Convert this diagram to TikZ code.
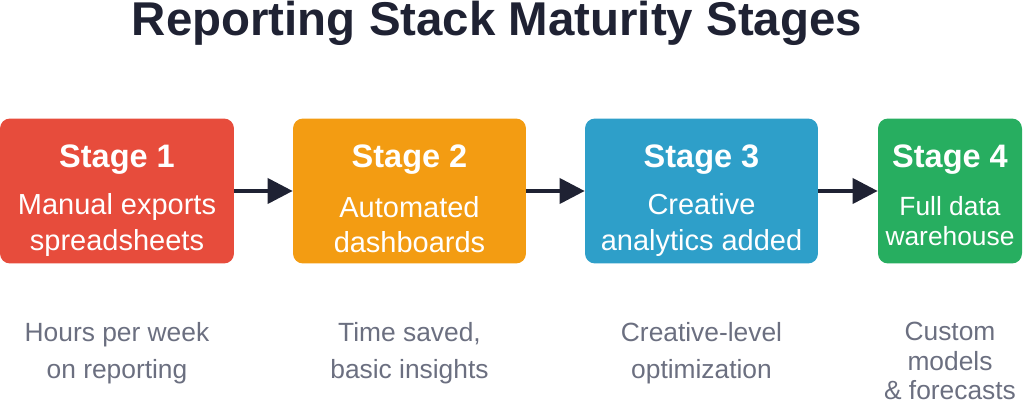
\documentclass[tikz,border=0pt]{standalone}
\usepackage{fontspec}
\setmainfont{Liberation Sans}
\usetikzlibrary{arrows.meta, positioning}
\definecolor{stagered}{HTML}{E74C3C}
\definecolor{stageorange}{HTML}{F39C12}
\definecolor{stageblue}{HTML}{2E9FC9}
\definecolor{stagegreen}{HTML}{27AE60}
\definecolor{arrowdark}{HTML}{1F2233}
\definecolor{notegray}{HTML}{6B6F80}
\definecolor{titledark}{HTML}{1F2233}
\begin{document}
\begin{tikzpicture}[x=0.02cm, y=-0.02cm,
    stage/.style={rectangle, rounded corners=2mm, minimum height=2.9cm},
    stagename/.style={text=white, font=\bfseries\fontsize{18.5}{22}\selectfont},
    stagetext/.style={text=white, align=center, font=\fontsize{16.5}{20}\selectfont},
    note/.style={align=center, text=notegray, font=\fontsize{15}{21}\selectfont},
    arrow/.style={-{Triangle[length=5mm, width=5mm]}, line width=2.2pt, arrowdark}
]
\useasboundingbox (0,0) rectangle (1024,401);

% Title
\node[font=\bfseries\fontsize{27}{32}\selectfont, text=titledark] (title) at (497,23) {Reporting Stack Maturity Stages};

% Stages
\node[stage, fill=stagered, minimum width=4.68cm] (s1) at (117,191) {};
\node[stage, fill=stageorange, minimum width=4.66cm] (s2) at (409.5,191) {};
\node[stage, fill=stageblue, minimum width=4.66cm] (s3) at (701.5,191) {};
\node[stage, fill=stagegreen, minimum width=2.88cm] (s4) at (950,191) {};
\node[stagename] (t1) at (117,160) {Stage 1};
\node[stagename] (t2) at (409.5,160) {Stage 2};
\node[stagename] (t3) at (701.5,160) {Stage 3};
\node[stagename] (t4) at (950,160) {Stage 4};
\node[stagetext] (b1) at (117,225) {Manual exports\\spreadsheets};
\node[stagetext] (b2) at (409.5,225) {Automated\\dashboards};
\node[stagetext] (b3) at (701.5,225) {Creative\\analytics added};
\node[stagetext, font=\fontsize{15}{17}\selectfont] (b4) at (950,221) {Full data\\warehouse};

% Connectors
\draw[arrow] (s1) -- (s2);
\draw[arrow] (s2) -- (s3);
\draw[arrow] (s3) -- (s4);

% Outcomes
\node[note] (n1) at (117,353) {Hours per week\\on reporting};
\node[note] (n2) at (409.5,353) {Time saved,\\basic insights};
\node[note] (n3) at (701.5,353) {Creative-level\\optimization};
\node[note, font=\fontsize{15}{17}\selectfont] (n4) at (950,361) {Custom\\models\\\& forecasts};
\end{tikzpicture}
\end{document}
